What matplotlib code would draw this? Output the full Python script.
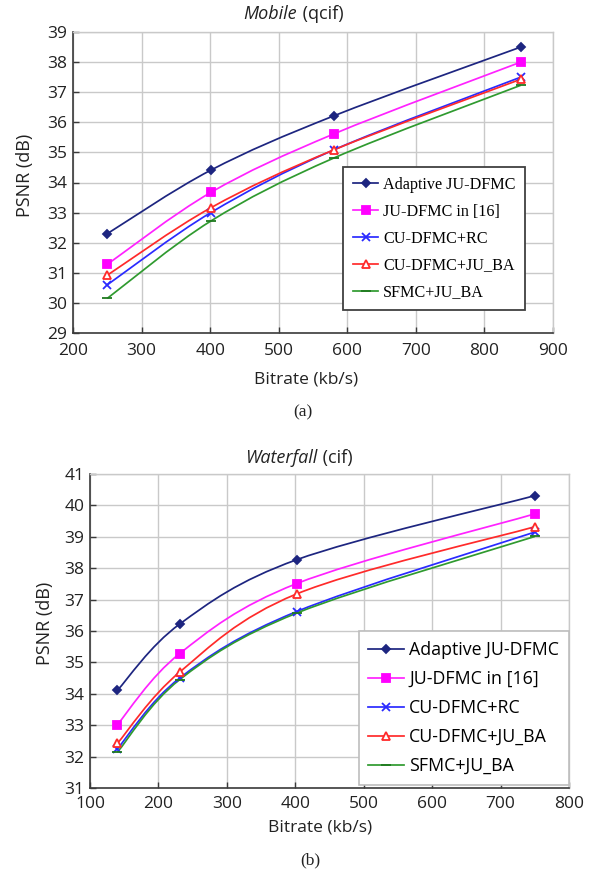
import numpy as np
import matplotlib
matplotlib.use("Agg")
import matplotlib.pyplot as plt
from matplotlib.path import Path
from matplotlib.patches import PathPatch

# ---- data -------------------------------------------------------------
series_names = ["Adaptive JU-DFMC", "JU-DFMC in [16]", "CU-DFMC+RC",
                "CU-DFMC+JU_BA", "SFMC+JU_BA"]

# Mobile (qcif)
mobile_rate = [250, 401, 581, 853]
mobile_adaptive = [32.30, 34.41, 36.22, 38.50]
mobile_judfmc = [31.28, 33.67, 35.62, 38.00]
mobile_curc = [30.60, 33.00, 35.09, 37.50]
mobile_cuba = [30.92, 33.16, 35.09, 37.43]
mobile_sfmc = [30.15, 32.72, 34.82, 37.23]

# Waterfall (cif)
water_rate = [140, 231, 402, 750]
water_adaptive = [34.11, 36.22, 38.27, 40.31]
water_judfmc = [33.02, 35.28, 37.51, 39.73]
water_curc = [32.25, 34.50, 36.62, 39.15]
water_cuba = [32.42, 34.69, 37.18, 39.32]
water_sfmc = [32.14, 34.45, 36.57, 39.01]

mobile_ticks_x = [200, 300, 400, 500, 600, 700, 800, 900]
mobile_ticks_y = list(range(29, 40))
water_ticks_x = [100, 200, 300, 400, 500, 600, 700, 800]
water_ticks_y = list(range(31, 42))

# ---- styles -----------------------------------------------------------
styles = [
    dict(color="#1d2580", marker="D", ms=4.5, mfc="#1d2580", mec="#1d2580"),
    dict(color="#ff22ff", marker="s", ms=5.5, mfc="#ff00ff", mec="#ff00ff"),
    dict(color="#2a2aff", marker="x", ms=5.5, mfc="#2a2aff", mec="#2a2aff"),
    dict(color="#ff2a2a", marker="^", ms=6, mfc="white", mec="#ff2a2a"),
    dict(color="#2f9a2f", marker="_", ms=7, mfc="#1f7a1f", mec="#1f7a1f"),
]

SANS = "Open Sans"
SERIF = "Liberation Serif"
TEXT = "#222222"


def smooth_path(x, y):
    """Cubic Bezier path through the points (Catmull-Rom tangents)."""
    x = np.asarray(x, float)
    y = np.asarray(y, float)
    pts = np.column_stack([x, y])
    n = len(pts)
    verts = [pts[0]]
    codes = [Path.MOVETO]
    for i in range(n - 1):
        p0 = pts[i - 1] if i > 0 else pts[i]
        p1 = pts[i]
        p2 = pts[i + 1]
        p3 = pts[i + 2] if i + 2 < n else pts[i + 1]
        c1 = p1 + (p2 - p0) / 6.0
        c2 = p2 - (p3 - p1) / 6.0
        verts += [c1, c2, p2]
        codes += [Path.CURVE4] * 3
    return Path(verts, codes)


def draw_panel(ax, rate, ys, xticks, yticks, xpad, legend_kw):
    handles = []
    for vals, st, name in zip(ys, styles, series_names):
        ax.add_patch(PathPatch(smooth_path(rate, vals), fill=False,
                               edgecolor=st["color"], lw=1.25, zorder=3))
        ax.plot(rate, vals, linestyle="none", marker=st["marker"],
                ms=st["ms"], mfc=st["mfc"], mec=st["mec"], mew=1.3,
                zorder=4)
        proxy, = ax.plot([], [], color=st["color"], lw=1.25,
                         marker=st["marker"], ms=st["ms"], mfc=st["mfc"],
                         mec=st["mec"], mew=1.3, label=name)
        handles.append(proxy)
    ax.set_xlim(xticks[0], xticks[-1])
    ax.set_ylim(yticks[0], yticks[-1])
    ax.set_xticks(xticks)
    ax.set_yticks(yticks)
    ax.grid(True, color="#c9c9c9", lw=1.0)
    ax.set_axisbelow(True)
    for side in ("top", "right"):
        ax.spines[side].set_color("#c9c9c9")
        ax.spines[side].set_linewidth(1.0)
    for side in ("left", "bottom"):
        ax.spines[side].set_color("#3a3a3a")
        ax.spines[side].set_linewidth(1.2)
    ax.tick_params(direction="in", length=4, width=1.0, colors="#3a3a3a",
                   labelsize=12.5, labelcolor=TEXT)
    ax.tick_params(axis="y", pad=4)
    ax.tick_params(axis="x", pad=xpad)
    for lab in ax.get_xticklabels() + ax.get_yticklabels():
        lab.set_fontfamily(SANS)
    return ax.legend(handles=handles, **legend_kw)


fig = plt.figure(figsize=(6.15, 8.74), dpi=100)

# top panel: Mobile (qcif)
ax1 = fig.add_axes([73 / 615, 1 - 333 / 874, 480 / 615, 301 / 874])
leg1 = draw_panel(
    ax1, mobile_rate,
    [mobile_adaptive, mobile_judfmc, mobile_curc, mobile_cuba, mobile_sfmc],
    mobile_ticks_x, mobile_ticks_y, 7,
    dict(loc="lower left", bbox_to_anchor=(0.5625, 0.076), fancybox=False,
         framealpha=1, edgecolor="#404040",
         prop=dict(family=SERIF, size=11.6),
         handlelength=1.6, labelspacing=0.68, borderpad=0.6,
         handletextpad=0.3, borderaxespad=0))
leg1.get_frame().set_linewidth(1.3)

# bottom panel: Waterfall (cif)
ax2 = fig.add_axes([90 / 615, 1 - 788 / 874, 479 / 615, 314 / 874])
leg2 = draw_panel(
    ax2, water_rate,
    [water_adaptive, water_judfmc, water_curc, water_cuba, water_sfmc],
    water_ticks_x, water_ticks_y, 6,
    dict(loc="lower right", bbox_to_anchor=(1.0, 0.01), fancybox=False,
         framealpha=1, edgecolor="#bdbdbd",
         prop=dict(family=SANS, size=12.8),
         handlelength=2.0, labelspacing=0.62, borderpad=0.55,
         handletextpad=0.3, borderaxespad=0))
leg2.get_frame().set_linewidth(1.2)

# titles, axis labels and panel captions
fig.text(297 / 615, 1 - 14 / 874, "Mobile", style="italic",
         family=SANS, size=13, ha="right", va="center", color=TEXT)
fig.text(298 / 615, 1 - 14 / 874, " (qcif)", family=SANS, size=13,
         ha="left", va="center", color=TEXT)
fig.text(317 / 615, 1 - 458 / 874, "Waterfall", style="italic",
         family=SANS, size=13, ha="right", va="center", color=TEXT)
fig.text(318 / 615, 1 - 458 / 874, " (cif)", family=SANS, size=13,
         ha="left", va="center", color=TEXT)

fig.text(306 / 615, 1 - 380 / 874, "Bitrate (kb/s)", family=SANS, size=12.5,
         ha="center", va="center", color=TEXT)
fig.text(320 / 615, 1 - 828 / 874, "Bitrate (kb/s)", family=SANS, size=12.5,
         ha="center", va="center", color=TEXT)
fig.text(25 / 615, 1 - 175 / 874, "PSNR (dB)", family=SANS, size=13,
         rotation=90, ha="center", va="center", color=TEXT)
fig.text(45 / 615, 1 - 623 / 874, "PSNR (dB)", family=SANS, size=13,
         rotation=90, ha="center", va="center", color=TEXT)
fig.text(303 / 615, 1 - 412 / 874, "(a)", family=SERIF, size=12.5,
         ha="center", va="center", color=TEXT)
fig.text(310 / 615, 1 - 860 / 874, "(b)", family=SERIF, size=12.5,
         ha="center", va="center", color=TEXT)

fig.savefig("out.png", dpi=100)
